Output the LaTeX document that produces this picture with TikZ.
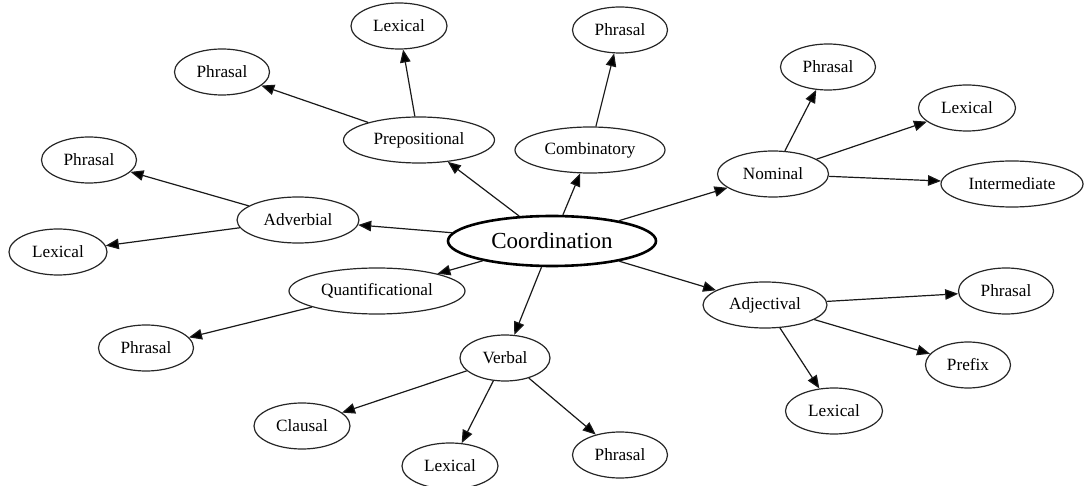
\documentclass[tikz,border=0pt]{standalone}
\usepackage{fontspec}
\setmainfont{Liberation Serif}
\usetikzlibrary{shapes.geometric,arrows.meta}
\begin{document}
\begin{tikzpicture}[x=1pt,y=-1pt,
  term/.style={ellipse,draw=black!85,line width=1.2pt,inner sep=0pt,
    font=\fontsize{17.2}{20}\selectfont,minimum height=46pt},
  root/.style={term,line width=2.6pt,draw=black,
    font=\fontsize{23}{27}\selectfont},
  link/.style={draw=black!90,line width=1.2pt,
    -{Triangle[length=13pt,width=10.5pt,fill=black]}}]
\useasboundingbox (0,0) rectangle (1085,486);

% central concept
\node[root,minimum width=208pt,minimum height=50pt] (coord) at (552,241) {Coordination};

% first level
\node[term,minimum width=151pt] (prep)  at (419,140) {Prepositional};
\node[term,minimum width=150pt] (comb)  at (590,150) {Combinatory};
\node[term,minimum width=111pt] (nom)   at (773,174) {Nominal};
\node[term,minimum width=122pt] (adv)   at (298,220) {Adverbial};
\node[term,minimum width=176pt] (quant) at (377,291) {Quantificational};
\node[term,minimum width=90pt]  (verb)  at (505,358) {Verbal};
\node[term,minimum width=124pt] (adj)   at (765,305) {Adjectival};

% second level
\node[term,minimum width=96pt]  (prepLex)  at (399,26)   {Lexical};
\node[term,minimum width=95pt]  (prepPhr)  at (222,72)   {Phrasal};
\node[term,minimum width=95pt]  (combPhr)  at (620,30)   {Phrasal};
\node[term,minimum width=95pt]  (nomPhr)   at (828,67)   {Phrasal};
\node[term,minimum width=97pt]  (nomLex)   at (967,108)  {Lexical};
\node[term,minimum width=142pt] (nomInt)   at (1012,184) {Intermediate};
\node[term,minimum width=95pt]  (advPhr)   at (89,160)   {Phrasal};
\node[term,minimum width=98pt]  (advLex)   at (58,252)   {Lexical};
\node[term,minimum width=95pt]  (quantPhr) at (146,348)  {Phrasal};
\node[term,minimum width=96pt]  (verbCla)  at (302,426)  {Clausal};
\node[term,minimum width=96pt]  (verbLex)  at (450,466)  {Lexical};
\node[term,minimum width=95pt]  (verbPhr)  at (620,455)  {Phrasal};
\node[term,minimum width=95pt]  (adjPhr)   at (1006,291) {Phrasal};
\node[term,minimum width=85pt]  (adjPre)   at (968,365)  {Prefix};
\node[term,minimum width=97pt]  (adjLex)   at (834,411)  {Lexical};

% connectors
\foreach \a/\b in {coord/prep,coord/comb,coord/nom,coord/adv,coord/quant,
    coord/verb,coord/adj,prep/prepLex,prep/prepPhr,comb/combPhr,
    nom/nomPhr,nom/nomLex,nom/nomInt,adv/advPhr,adv/advLex,quant/quantPhr,
    verb/verbCla,verb/verbLex,verb/verbPhr,adj/adjPhr,adj/adjPre,adj/adjLex}
  \draw[link] (\a) -- (\b);
\end{tikzpicture}
\end{document}
